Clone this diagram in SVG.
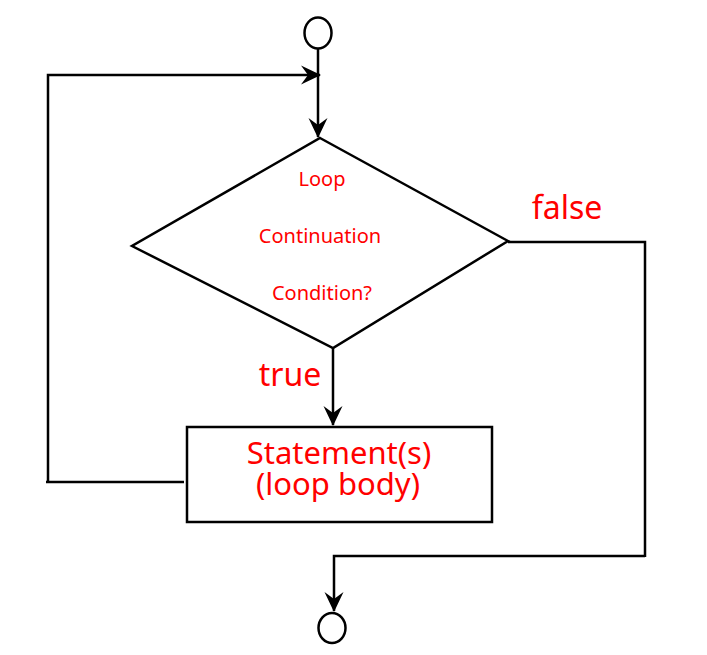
<svg xmlns="http://www.w3.org/2000/svg" width="707" height="655" viewBox="0 0 707 655">
<style>
.ln{fill:none;stroke:#000;stroke-width:2.5}
.sh{fill:#fff;stroke:#000;stroke-width:2.5}
.t{font-family:"Noto Sans","Open Sans",sans-serif;fill:#ff0000;text-anchor:middle}
</style>
<defs>
<marker id="ah" markerUnits="userSpaceOnUse" markerWidth="30" markerHeight="30" viewBox="-25 -15 30 30" refX="0" refY="0" orient="auto" overflow="visible">
<path d="M1,0 L-19,-9.5 L-12,0 L-19,9.5 Z" fill="#000"/>
</marker>
</defs>
<rect width="707" height="655" fill="#fff"/>
<g id="connectors">
<path class="ln" d="M318,49 L318,137" marker-end="url(#ah)"/>
<path class="ln" d="M48,481 L48,75 L320,75" marker-end="url(#ah)"/>
<path class="ln" d="M46,482 L184,482"/>
<path class="ln" d="M333,348 L333,425" marker-end="url(#ah)"/>
<path class="ln" d="M508,242 L645,242 L645,557"/>
<path class="ln" d="M645,556 L334,556 L334,611" marker-end="url(#ah)"/>
</g>
<g id="start"><ellipse class="sh" cx="318" cy="33" rx="13.5" ry="15.5"/></g>
<g id="decision">
<polygon class="sh" points="320,138 508,241 333,348 132,246"/>
<text class="t" x="322" y="186" font-size="20">Loop</text>
<text class="t" x="320" y="243" font-size="20">Continuation</text>
<text class="t" x="322" y="300" font-size="20">Condition?</text>
</g>
<g id="body">
<rect class="sh" x="187" y="427" width="305" height="95"/>
<text class="t" x="339" y="464" font-size="31">Statement(s)</text>
<text class="t" x="338" y="495" font-size="31">(loop body)</text>
</g>
<g id="end"><ellipse class="sh" cx="332" cy="628" rx="13.5" ry="15"/></g>
<g id="labels">
<text class="t" x="567" y="219" font-size="32">false</text>
<text class="t" x="290" y="386" font-size="32">true</text>
</g>
</svg>
